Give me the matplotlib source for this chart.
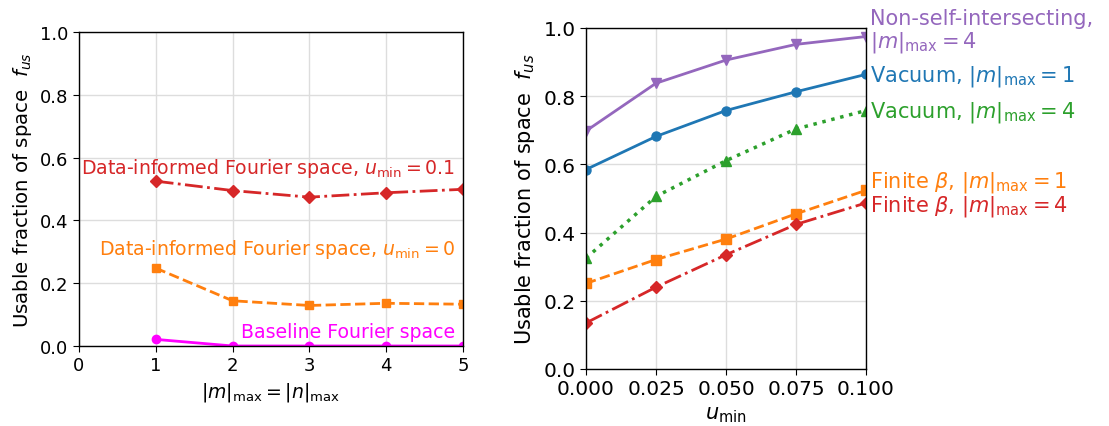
import matplotlib
matplotlib.use("Agg")
import matplotlib.pyplot as plt

# Left panel: fraction of usable space vs Fourier resolution
m_max = [1, 2, 3, 4, 5]
informed_u01 = [0.525, 0.495, 0.474, 0.488, 0.499]
informed_u0 = [0.248, 0.144, 0.129, 0.136, 0.133]
baseline = [0.021, 0.0, 0.0, 0.0, 0.0]

# Right panel: fraction of usable space vs u_min
u_min = [0.0, 0.025, 0.05, 0.075, 0.1]
nonself_m4 = [0.698, 0.838, 0.906, 0.952, 0.975]
vacuum_m1 = [0.585, 0.682, 0.758, 0.813, 0.864]
vacuum_m4 = [0.325, 0.506, 0.611, 0.704, 0.758]
finite_m1 = [0.251, 0.321, 0.381, 0.455, 0.524]
finite_m4 = [0.135, 0.240, 0.335, 0.424, 0.487]

plt.rcParams["font.family"] = "DejaVu Sans"
plt.rcParams["mathtext.fontset"] = "dejavusans"

fig = plt.figure(figsize=(11.09, 4.27), dpi=100)
ax1 = fig.add_axes([0.0712, 0.1874, 0.3463, 0.7353])
ax2 = fig.add_axes([0.5284, 0.1335, 0.2525, 0.7986])

for ax, fs in ((ax1, 13), (ax2, 14.5)):
    ax.grid(True, color="#dddddd", lw=1)
    ax.set_axisbelow(True)
    ax.tick_params(labelsize=fs, direction="out", length=4)
    for sp in ax.spines.values():
        sp.set_linewidth(1.0)

# left
ax1.plot(m_max, informed_u01, "-.", color="tab:red", marker="D", ms=6, lw=2)
ax1.plot(m_max, informed_u0, "--", color="tab:orange", marker="s", ms=6, lw=2)
ax1.plot(m_max, baseline, "-", color="magenta", marker="o", ms=6, lw=2)
ax1.set_xlim(0, 5)
ax1.set_ylim(0, 1)
ax1.set_xticks(range(6))
ax1.set_yticks([0, 0.2, 0.4, 0.6, 0.8, 1.0])
ax1.set_xlabel(r"$|m|_{\rm max} = |n|_{\rm max}$", fontsize=13.6)
ax1.set_ylabel(r"Usable fraction of space  $f_{us}$", fontsize=14.2)
ax1.text(4.9, 0.567, r"Data-informed Fourier space, $u_{\rm min} = 0.1$",
         color="tab:red", fontsize=13.6, ha="right", va="center")
ax1.text(4.9, 0.31, r"Data-informed Fourier space, $u_{\rm min} = 0$",
         color="tab:orange", fontsize=13.6, ha="right", va="center")
ax1.text(4.9, 0.046, "Baseline Fourier space",
         color="magenta", fontsize=13.6, ha="right", va="center")

# right
ax2.plot(u_min, nonself_m4, "-", color="tab:purple", marker="v", ms=6.5, lw=2)
ax2.plot(u_min, vacuum_m1, "-", color="tab:blue", marker="o", ms=6.5, lw=2)
ax2.plot(u_min, vacuum_m4, ":", color="tab:green", marker="^", ms=6.5, lw=2.5)
ax2.plot(u_min, finite_m1, "--", color="tab:orange", marker="s", ms=6.5, lw=2)
ax2.plot(u_min, finite_m4, "-.", color="tab:red", marker="D", ms=6.5, lw=2)
ax2.set_xlim(0, 0.1)
ax2.set_ylim(0, 1)
ax2.set_xticks([0, 0.025, 0.05, 0.075, 0.1])
ax2.set_yticks([0, 0.2, 0.4, 0.6, 0.8, 1.0])
ax2.set_xlabel(r"$u_{\rm min}$", fontsize=15)
ax2.set_ylabel(r"Usable fraction of space  $f_{us}$", fontsize=15, labelpad=5)

labels = [
    ("Non-self-intersecting,\n" + r"$|m|_{\rm max} = 4$", 0.99, "tab:purple"),
    (r"Vacuum, $|m|_{\rm max} = 1$", 0.862, "tab:blue"),
    (r"Vacuum, $|m|_{\rm max} = 4$", 0.755, "tab:green"),
    (r"Finite $\beta$, $|m|_{\rm max} = 1$", 0.549, "tab:orange"),
    (r"Finite $\beta$, $|m|_{\rm max} = 4$", 0.479, "tab:red"),
]
for txt, y, c in labels:
    ax2.annotate(txt, xy=(1.0, y), xycoords=("axes fraction", "data"),
                 xytext=(3, 0), textcoords="offset points",
                 color=c, fontsize=15, ha="left", va="center",
                 annotation_clip=False, linespacing=1.05)

fig.savefig("out.png", dpi=100)
